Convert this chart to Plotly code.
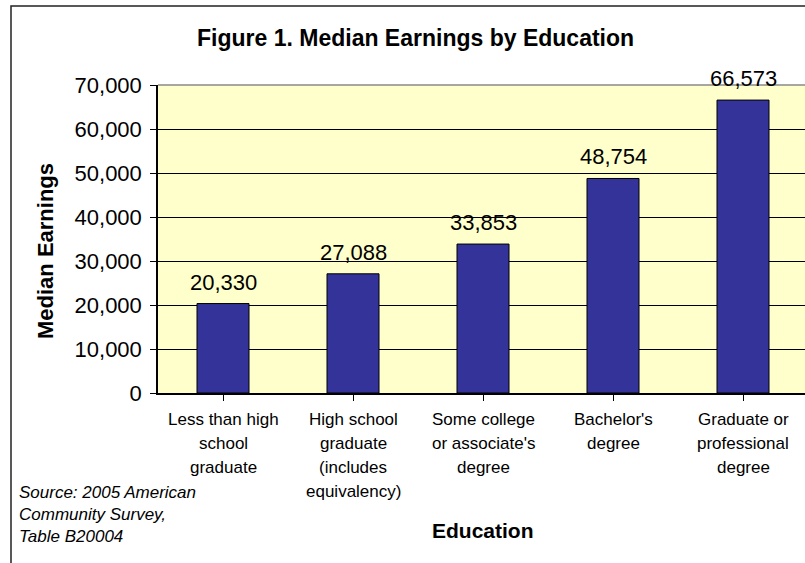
import plotly.graph_objects as go

categories = [
    "Less than high<br>school<br>graduate",
    "High school<br>graduate<br>(includes<br>equivalency)",
    "Some college<br>or associate's<br>degree",
    "Bachelor's<br>degree",
    "Graduate or<br>professional<br>degree",
]
earnings = [20330, 27088, 33853, 48754, 66573]
y_ticks = [0, 10000, 20000, 30000, 40000, 50000, 60000, 70000]

W, H = 805, 563
ML, MR, MT, MB = 158, 0, 85, 170
PW = W - ML - MR
PH = H - MT - MB
FONT = "Arial, Liberation Sans, sans-serif"


def px(x):
    return (x - ML) / PW


def py(y):
    return (H - MB - y) / PH


xs = list(range(len(categories)))

fig = go.Figure()
fig.add_trace(go.Bar(
    x=xs, y=earnings, width=0.4,
    marker=dict(color="#333399", line=dict(color="black", width=1)),
    hoverinfo="skip",
))

annotations = []
for x, v in zip(xs, earnings):
    annotations.append(dict(
        x=x, y=v, xref="x", yref="y", text=f"{v:,}", showarrow=False,
        yanchor="bottom", yshift=7, font=dict(family=FONT, size=22, color="black"),
    ))

# category labels, one line each (Excel-like line spacing)
for x, lab in zip(xs, categories):
    for i, line in enumerate(lab.split("<br>")):
        annotations.append(dict(
            x=x, y=py(419 + 24 * i), xref="x", yref="paper", text=line,
            showarrow=False, xanchor="center", yanchor="middle",
            font=dict(family=FONT, size=17, color="black"),
        ))

annotations.append(dict(
    x=px(415), y=py(38), xref="paper", yref="paper",
    text="<b>Figure 1. Median Earnings by Education</b>", showarrow=False,
    xanchor="center", yanchor="middle", font=dict(family=FONT, size=23, color="black"),
))
annotations.append(dict(
    x=px(45), y=py(251), xref="paper", yref="paper",
    text="<b>Median Earnings</b>", showarrow=False, textangle=-90,
    xanchor="center", yanchor="middle", font=dict(family=FONT, size=22, color="black"),
))
annotations.append(dict(
    x=px(483), y=py(530), xref="paper", yref="paper",
    text="<b>Education</b>", showarrow=False,
    xanchor="center", yanchor="middle", font=dict(family=FONT, size=21, color="black"),
))
annotations.append(dict(
    x=px(17), y=py(481), xref="paper", yref="paper",
    text="<i>Source: 2005 American<br>Community Survey,<br>Table B20004</i>", showarrow=False,
    xanchor="left", yanchor="top", align="left",
    font=dict(family=FONT, size=17, color="black"),
))

shapes = [
    dict(type="rect", xref="paper", yref="paper",
         x0=px(11), x1=px(812), y0=py(570), y1=py(6),
         line=dict(color="#222222", width=1.5), layer="below"),
    dict(type="line", xref="paper", yref="paper", x0=0, x1=1, y0=1, y1=1,
         line=dict(color="#888888", width=1.5)),
]

fig.update_layout(
    width=W, height=H,
    margin=dict(l=ML, r=MR, t=MT, b=MB),
    paper_bgcolor="white",
    plot_bgcolor="#FFFFCC",
    showlegend=False,
    annotations=annotations,
    shapes=shapes,
    font=dict(family=FONT, color="black"),
)
fig.update_xaxes(
    range=[-0.5, -0.5 + PW / 130.0],
    tickmode="array", tickvals=xs, ticktext=categories, showticklabels=False,
    ticks="outside", ticklen=6, tickcolor="black", tickson="boundaries",
    showline=True, linecolor="black", linewidth=1.5,
    showgrid=False, zeroline=False,
)
fig.update_yaxes(
    range=[0, 70000],
    tickmode="array", tickvals=y_ticks, ticktext=[f"{v:,}" for v in y_ticks],
    tickfont=dict(family=FONT, size=22, color="black"),
    ticks="outside", ticklen=6, tickcolor="black", ticklabelstandoff=4,
    showline=True, linecolor="black", linewidth=1.5,
    showgrid=True, gridcolor="black", gridwidth=1,
    zeroline=False,
)

fig.write_html("out.html")
